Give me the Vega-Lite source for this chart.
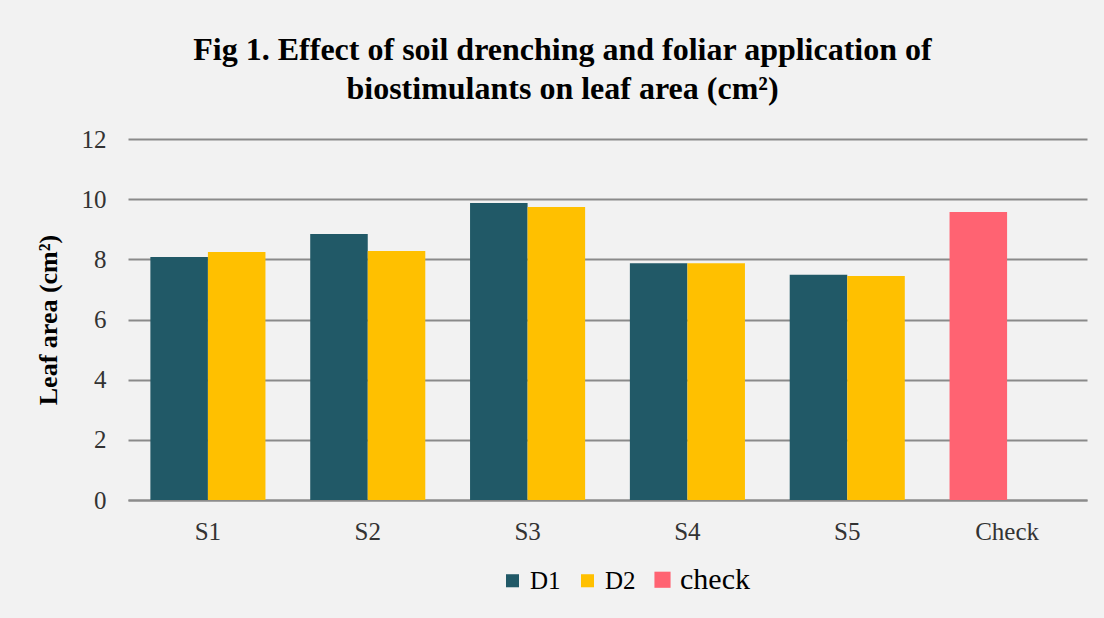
{
  "$schema": "https://vega.github.io/schema/vega-lite/v6.json",
  "width": 959,
  "height": 361,
  "autosize": "none",
  "padding": {"left": 128, "top": 139, "right": 17, "bottom": 118},
  "background": "#f2f2f2",
  "title": {
    "text": ["Fig 1. Effect of soil drenching and foliar application of", "biostimulants on leaf area (cm²)"],
    "font": "Liberation Serif",
    "fontSize": 32,
    "fontWeight": "bold",
    "color": "#000000",
    "anchor": "middle",
    "frame": "group",
    "dx": -45,
    "lineHeight": 39,
    "offset": 21
  },
  "data": {
    "values": [
      {"treatment": "S1", "slot": "D1", "series": "D1", "area": 8.08},
      {"treatment": "S1", "slot": "D2", "series": "D2", "area": 8.24},
      {"treatment": "S2", "slot": "D1", "series": "D1", "area": 8.84},
      {"treatment": "S2", "slot": "D2", "series": "D2", "area": 8.28},
      {"treatment": "S3", "slot": "D1", "series": "D1", "area": 9.87},
      {"treatment": "S3", "slot": "D2", "series": "D2", "area": 9.74},
      {"treatment": "S4", "slot": "D1", "series": "D1", "area": 7.87},
      {"treatment": "S4", "slot": "D2", "series": "D2", "area": 7.87},
      {"treatment": "S5", "slot": "D1", "series": "D1", "area": 7.49},
      {"treatment": "S5", "slot": "D2", "series": "D2", "area": 7.45},
      {"treatment": "Check", "slot": "D1", "series": "check", "area": 9.57}
    ]
  },
  "mark": {"type": "bar"},
  "encoding": {
    "x": {
      "field": "treatment",
      "type": "nominal",
      "sort": ["S1", "S2", "S3", "S4", "S5", "Check"],
      "scale": {"paddingInner": 0.28, "paddingOuter": 0.14},
      "axis": {
        "title": null,
        "labelAngle": 0,
        "labelFont": "Liberation Serif",
        "labelFontSize": 25,
        "labelColor": "#333333",
        "labelPadding": 19,
        "ticks": false,
        "domain": true,
        "domainColor": "#8c8c8c",
        "domainWidth": 2
      }
    },
    "xOffset": {
      "field": "slot",
      "type": "nominal",
      "scale": {"domain": ["D1", "D2"], "paddingInner": 0, "paddingOuter": 0}
    },
    "y": {
      "field": "area",
      "type": "quantitative",
      "scale": {"domain": [0, 12]},
      "axis": {
        "title": "Leaf area (cm²)",
        "titleFont": "Liberation Serif",
        "titleFontSize": 26,
        "titleFontWeight": "bold",
        "titleColor": "#000000",
        "titlePadding": 20,
        "values": [0, 2, 4, 6, 8, 10, 12],
        "labelFont": "Liberation Serif",
        "labelFontSize": 25,
        "labelColor": "#333333",
        "labelPadding": 22,
        "ticks": false,
        "domain": false,
        "grid": true,
        "gridColor": "#8a8a8a",
        "gridWidth": 2
      }
    },
    "color": {
      "field": "series",
      "type": "nominal",
      "scale": {"domain": ["D1", "D2", "check"], "range": ["#215967", "#FFC000", "#FF6372"]},
      "legend": {
        "title": null,
        "orient": "none",
        "direction": "horizontal",
        "legendX": 372,
        "legendY": 428,
        "symbolType": "square",
        "symbolSize": {"expr": "datum.value == 'check' ? 260 : 170"},
        "symbolStrokeWidth": 0,
        "labelFont": "Liberation Serif",
        "labelFontSize": {"expr": "datum.value == 'check' ? 30 : 25"},
        "labelColor": "#000000",
        "labelOffset": 5,
        "columnPadding": 14
      }
    }
  },
  "config": {"view": {"stroke": null}}
}
